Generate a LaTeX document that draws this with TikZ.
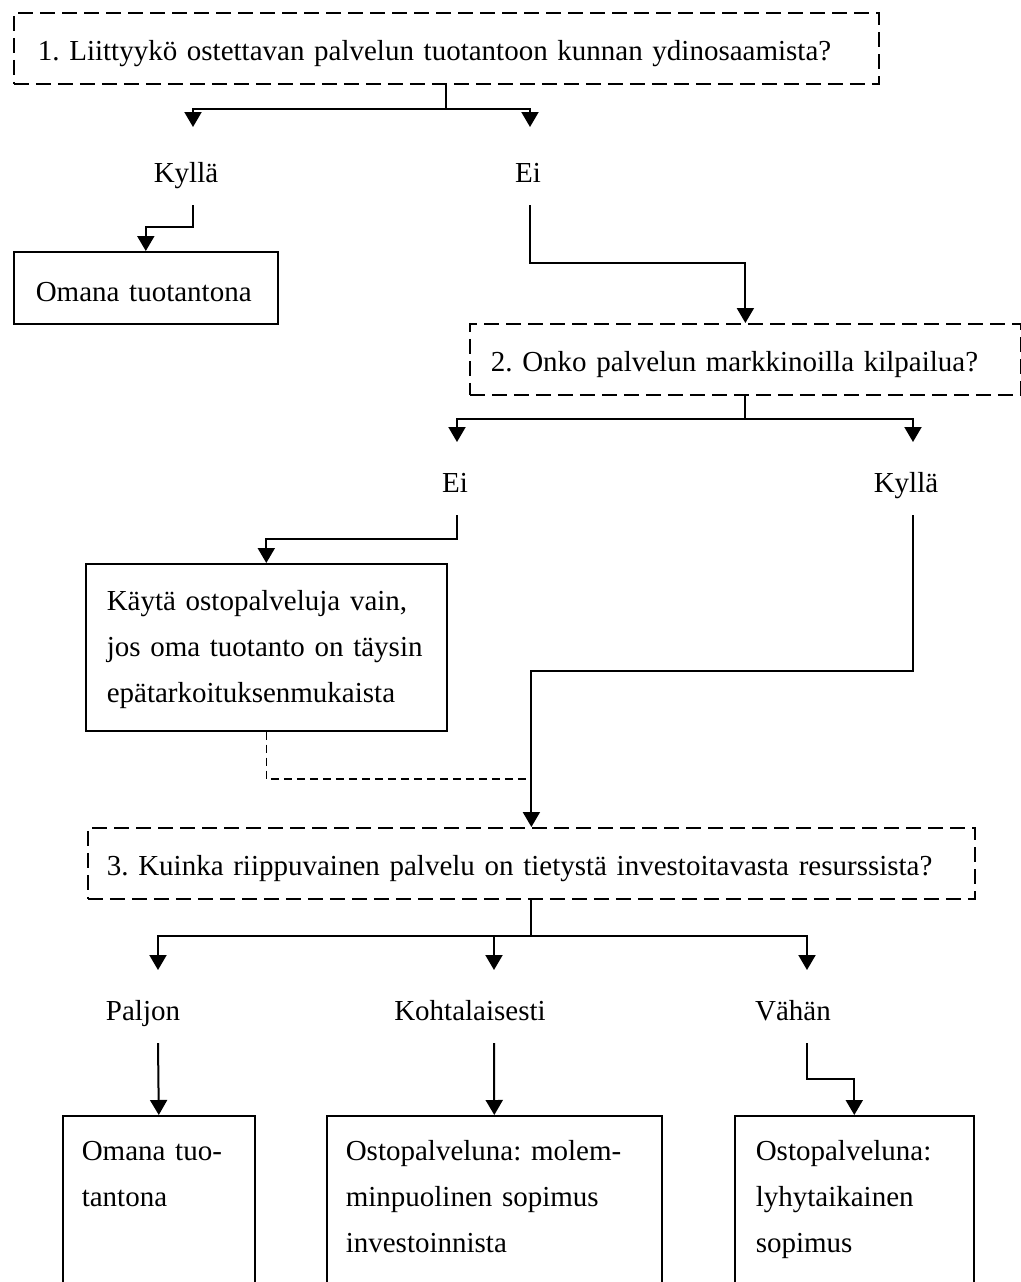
\documentclass[tikz,border=0pt]{standalone}
\usepackage{fontspec}
\setmainfont{Liberation Serif}
\usetikzlibrary{arrows.meta,positioning}
\frenchspacing

\tikzset{
  question/.style={draw, line width=0.9pt, dash pattern=on 7.5pt off 3.5pt, align=left,
    anchor=north west, inner ysep=0pt, text height=24pt, text depth=11.5pt},
  answer/.style={draw, line width=0.8pt, align=left, anchor=north west, inner ysep=0pt},
  openbox/.style={answer, text height=12pt, text depth=70pt, inner ysep=10.5pt},
  choice/.style={anchor=base, inner sep=0pt},
  link/.style={line width=1pt},
  flow/.style={link, -{Triangle[length=7.5pt,width=8.5pt]}},
  maybe/.style={line width=0.7pt, dash pattern=on 4pt off 2.5pt},
}

\begin{document}
\begin{tikzpicture}[x=0.5pt, y=-0.5pt, font=\fontsize{14.5pt}{23pt}\selectfont]
  \useasboundingbox (0,0) rectangle (1021,1282);

  % questions
  \node[question, inner xsep=12pt, text width=408.5pt] (q1) at (13,12)
    {1. Liittyykö ostettavan palvelun tuotantoon kunnan ydinosaamista?};
  \node[question, inner xsep=10.5pt, text width=254.5pt] (q2) at (469,323)
    {2. Onko palvelun markkinoilla kilpailua?};
  \node[question, inner xsep=9.5pt, text width=424.5pt] (q3) at (87,827)
    {3. Kuinka riippuvainen palvelu on tietystä investoitavasta resurssista?};

  % answers
  \node[choice] (yes1) at (186,182) {Kyllä};
  \node[choice] (no1) at (528,182) {Ei};
  \node[choice] (no2) at (455,492) {Ei};
  \node[choice] (yes2) at (906,492) {Kyllä};
  \node[choice] (much) at (143,1020) {Paljon};
  \node[choice] (some) at (470,1020) {Kohtalaisesti};
  \node[choice] (little) at (793,1020) {Vähän};

  % outcomes
  \node[answer, inner xsep=11pt, text width=110pt, text height=25pt, text depth=11pt] (own1) at (13,251)
    {Omana tuotantona};
  \node[answer, inner xsep=10.5pt, text width=159.5pt, text height=23.5pt, text depth=60pt] (only) at (85,563)
    {Käytä ostopalveluja vain,\\jos oma tuotanto on täysin\\epätarkoituksenmukaista};
  \node[openbox, inner xsep=9.5pt, text width=77pt] (own2) at (62,1115)
    {Omana tuo-\\tantona};
  \node[openbox, inner xsep=9.5pt, text width=148.5pt] (mutual) at (326,1115)
    {Ostopalveluna: molem-\\minpuolinen sopimus\\investoinnista};
  \node[openbox, inner xsep=10.5pt, text width=98.5pt] (short) at (734,1115)
    {Ostopalveluna:\\lyhytaikainen\\sopimus};

  % forks
  \coordinate (j1) at ([yshift=-12pt]q1.south);
  \coordinate (j2) at ([yshift=-11.5pt]q2.south);
  \coordinate (j3) at ([yshift=-18pt]q3.south);
  \coordinate (a1) at (193,127);
  \coordinate (a2) at (530,127);
  \coordinate (a3) at (457,442);
  \coordinate (a4) at (913,442);
  \coordinate (a5) at (158,970);
  \coordinate (a6) at (494,970);
  \coordinate (a7) at (807,970);
  \coordinate (b1) at (193,205);
  \coordinate (b2) at (530,205);
  \coordinate (b3) at (457,515);
  \coordinate (b4) at (913,515);
  \coordinate (b5) at (158,1043);
  \coordinate (b6) at (494,1043);
  \coordinate (b7) at (807,1043);

  \draw[link] (q1.south) -- (j1);
  \draw[flow] (j1) -| (a1);
  \draw[flow] (j1) -| (a2);
  \draw[link] (q2.south) -- (j2);
  \draw[flow] (j2) -| (a3);
  \draw[flow] (j2) -| (a4);
  \draw[link] (q3.south) -- (j3);
  \draw[flow] (j3) -| (a5);
  \draw[flow] (j3) -| (a6);
  \draw[flow] (j3) -| (a7);

  \draw[flow] (b1) -- ++(0,22) -| (own1.north);
  \draw[flow] (b2) -- ++(0,58) -| (q2.north);
  \draw[flow] (b3) -- ++(0,24) -| (only.north);
  \draw[flow] (b4) -- ++(0,156) -| (q3.north);
  \draw[maybe] (only.south) |- ([yshift=24pt]q3.north);
  \draw[flow] (b5) -- (own2.north);
  \draw[flow] (b6) -- (mutual.north);
  \draw[flow] (b7) -- ++(0,36) -| (short.north);
\end{tikzpicture}
\end{document}
